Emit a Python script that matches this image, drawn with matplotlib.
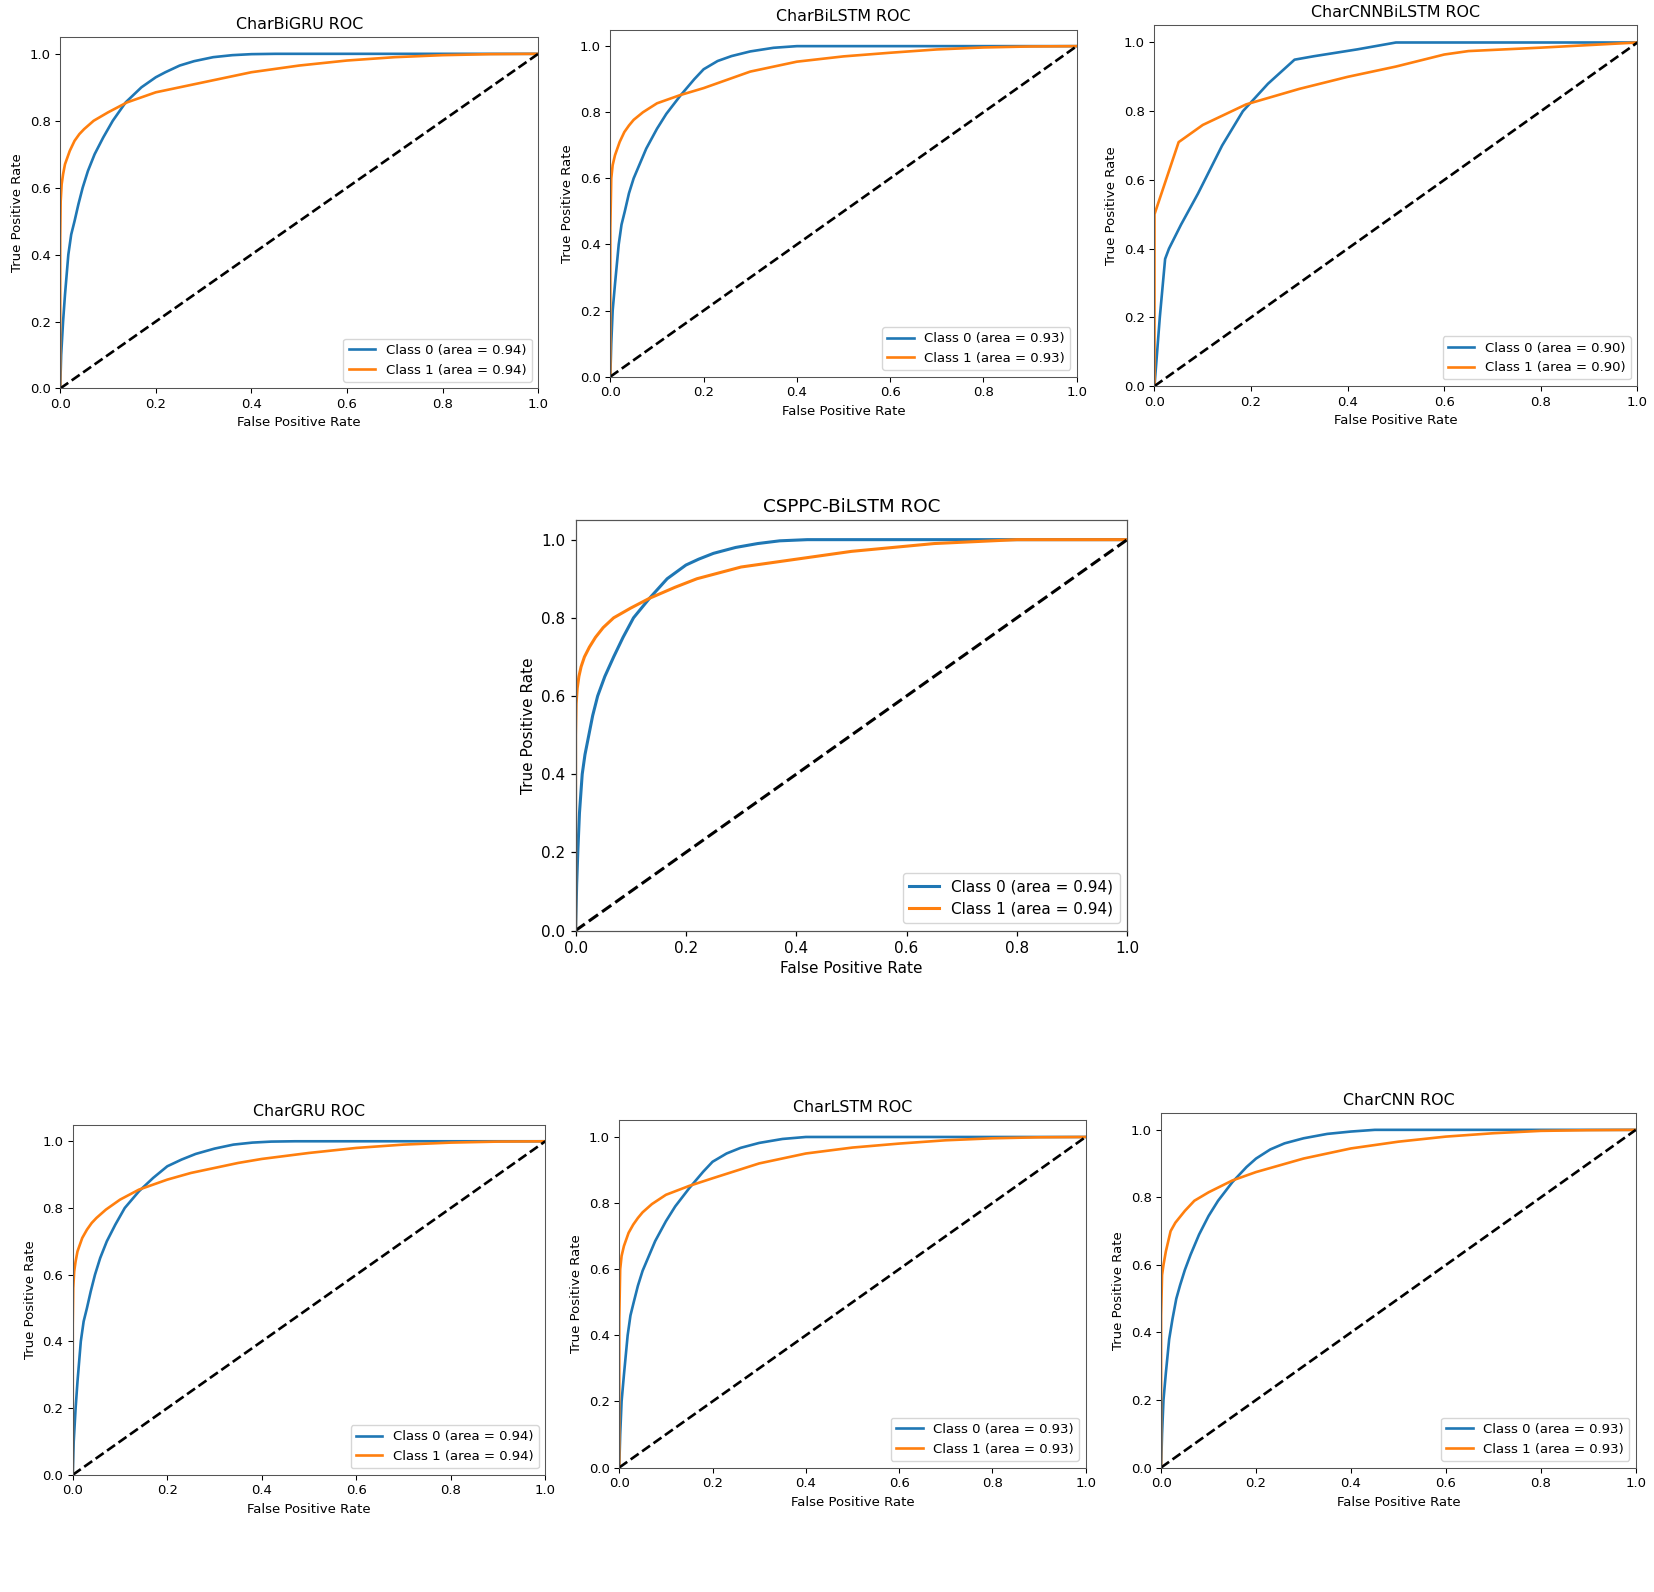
import matplotlib
matplotlib.use("Agg")
import matplotlib.pyplot as plt

# ROC points, per model: (fpr, tpr) for class 0 and class 1
bigru_fpr0 = [0, 0.002, 0.006, 0.01, 0.017, 0.023, 0.03, 0.038, 0.047, 0.058, 0.072, 0.09, 0.11, 0.137, 0.17, 0.2, 0.22, 0.25, 0.28, 0.32, 0.36, 0.4, 0.45, 1.0]
bigru_tpr0 = [0, 0.1, 0.2, 0.28, 0.4, 0.46, 0.5, 0.55, 0.6, 0.65, 0.7, 0.75, 0.8, 0.855, 0.9, 0.93, 0.945, 0.965, 0.978, 0.99, 0.996, 0.999, 1.0, 1.0]
bigru_fpr1 = [0, 0, 0.001, 0.003, 0.006, 0.01, 0.015, 0.02, 0.03, 0.04, 0.05, 0.07, 0.1, 0.14, 0.2, 0.25, 0.3, 0.35, 0.4, 0.5, 0.6, 0.7, 0.8, 0.9, 1.0]
bigru_tpr1 = [0, 0.45, 0.56, 0.61, 0.64, 0.67, 0.69, 0.71, 0.74, 0.76, 0.775, 0.8, 0.825, 0.855, 0.885, 0.9, 0.915, 0.93, 0.945, 0.965, 0.98, 0.99, 0.996, 0.999, 1.0]

bilstm_fpr0 = [0, 0.002, 0.005, 0.01, 0.018, 0.024, 0.031, 0.04, 0.05, 0.062, 0.077, 0.1, 0.12, 0.15, 0.18, 0.2, 0.23, 0.26, 0.3, 0.35, 0.4, 1.0]
bilstm_tpr0 = [0, 0.1, 0.2, 0.28, 0.4, 0.46, 0.5, 0.555, 0.6, 0.64, 0.69, 0.75, 0.795, 0.85, 0.9, 0.93, 0.955, 0.97, 0.984, 0.995, 1.0, 1.0]
bilstm_fpr1 = [0, 0, 0.002, 0.005, 0.01, 0.02, 0.03, 0.04, 0.05, 0.07, 0.1, 0.15, 0.2, 0.3, 0.4, 0.5, 0.6, 0.7, 0.8, 0.9, 1.0]
bilstm_tpr1 = [0, 0.45, 0.6, 0.64, 0.67, 0.71, 0.74, 0.76, 0.777, 0.8, 0.827, 0.852, 0.873, 0.923, 0.953, 0.969, 0.98, 0.99, 0.996, 0.999, 1.0]

cnnbilstm_fpr0 = [0, 0.011, 0.022, 0.03, 0.055, 0.09, 0.14, 0.183, 0.235, 0.29, 0.33, 0.42, 0.5, 1.0]
cnnbilstm_tpr0 = [0, 0.2, 0.37, 0.40, 0.47, 0.56, 0.7, 0.8, 0.88, 0.95, 0.96, 0.98, 1.0, 1.0]
cnnbilstm_fpr1 = [0, 0, 0.05, 0.06, 0.1, 0.19, 0.3, 0.4, 0.5, 0.6, 0.65, 0.8, 1.0]
cnnbilstm_tpr1 = [0, 0.5, 0.71, 0.72, 0.76, 0.82, 0.865, 0.9, 0.93, 0.965, 0.975, 0.985, 1.0]

csppc_fpr0 = [0, 0.002, 0.004, 0.007, 0.012, 0.017, 0.024, 0.031, 0.04, 0.053, 0.069, 0.086, 0.105, 0.134, 0.166, 0.2, 0.223, 0.25, 0.29, 0.33, 0.37, 0.42, 1.0]
csppc_tpr0 = [0, 0.12, 0.2, 0.3, 0.4, 0.45, 0.5, 0.55, 0.6, 0.65, 0.7, 0.75, 0.8, 0.85, 0.9, 0.935, 0.95, 0.965, 0.98, 0.99, 0.997, 1.0, 1.0]
csppc_fpr1 = [0, 0, 0.001, 0.003, 0.006, 0.01, 0.016, 0.025, 0.036, 0.05, 0.069, 0.1, 0.134, 0.18, 0.22, 0.3, 0.4, 0.5, 0.65, 0.8, 1.0]
csppc_tpr1 = [0, 0.5, 0.58, 0.62, 0.65, 0.675, 0.7, 0.725, 0.75, 0.775, 0.8, 0.825, 0.85, 0.878, 0.9, 0.93, 0.95, 0.97, 0.99, 1.0, 1.0]

gru_fpr0 = [0, 0.002, 0.006, 0.01, 0.017, 0.023, 0.03, 0.038, 0.047, 0.058, 0.072, 0.09, 0.11, 0.14, 0.17, 0.2, 0.23, 0.26, 0.3, 0.34, 0.38, 0.42, 0.47, 1.0]
gru_tpr0 = [0, 0.1, 0.2, 0.28, 0.4, 0.46, 0.5, 0.55, 0.6, 0.65, 0.7, 0.75, 0.8, 0.85, 0.89, 0.925, 0.945, 0.962, 0.978, 0.99, 0.996, 0.999, 1.0, 1.0]
gru_fpr1 = [0, 0, 0.001, 0.003, 0.006, 0.01, 0.015, 0.02, 0.03, 0.04, 0.05, 0.07, 0.1, 0.14, 0.2, 0.25, 0.3, 0.35, 0.4, 0.5, 0.6, 0.7, 0.8, 0.9, 1.0]
gru_tpr1 = [0, 0.45, 0.56, 0.61, 0.64, 0.67, 0.69, 0.71, 0.735, 0.755, 0.77, 0.795, 0.825, 0.855, 0.885, 0.905, 0.92, 0.935, 0.947, 0.965, 0.98, 0.99, 0.996, 0.999, 1.0]

lstm_fpr0 = [0, 0.002, 0.005, 0.01, 0.018, 0.024, 0.031, 0.04, 0.05, 0.062, 0.077, 0.1, 0.12, 0.15, 0.18, 0.2, 0.23, 0.26, 0.3, 0.35, 0.4, 1.0]
lstm_tpr0 = [0, 0.1, 0.2, 0.28, 0.4, 0.46, 0.5, 0.55, 0.595, 0.635, 0.685, 0.745, 0.79, 0.845, 0.895, 0.925, 0.95, 0.967, 0.982, 0.994, 1.0, 1.0]
lstm_fpr1 = [0, 0, 0.002, 0.005, 0.01, 0.02, 0.03, 0.04, 0.05, 0.07, 0.1, 0.15, 0.2, 0.3, 0.4, 0.5, 0.6, 0.7, 0.8, 0.9, 1.0]
lstm_tpr1 = [0, 0.45, 0.6, 0.64, 0.67, 0.71, 0.735, 0.755, 0.772, 0.797, 0.825, 0.852, 0.875, 0.92, 0.95, 0.968, 0.98, 0.99, 0.996, 0.999, 1.0]

cnn_fpr0 = [0, 0.002, 0.005, 0.01, 0.017, 0.024, 0.032, 0.04, 0.05, 0.062, 0.08, 0.1, 0.12, 0.15, 0.18, 0.2, 0.23, 0.26, 0.3, 0.35, 0.4, 0.45, 1.0]
cnn_tpr0 = [0, 0.1, 0.2, 0.28, 0.38, 0.44, 0.5, 0.54, 0.585, 0.63, 0.69, 0.745, 0.79, 0.845, 0.89, 0.915, 0.942, 0.96, 0.975, 0.988, 0.995, 1.0, 1.0]
cnn_fpr1 = [0, 0, 0.002, 0.005, 0.01, 0.02, 0.03, 0.05, 0.07, 0.1, 0.15, 0.2, 0.3, 0.4, 0.5, 0.6, 0.7, 0.8, 0.9, 1.0]
cnn_tpr1 = [0, 0.45, 0.57, 0.6, 0.64, 0.7, 0.725, 0.76, 0.79, 0.815, 0.85, 0.875, 0.915, 0.945, 0.965, 0.98, 0.99, 0.997, 0.999, 1.0]

models = ["CharBiGRU", "CharBiLSTM", "CharCNNBiLSTM", "CSPPC-BiLSTM", "CharGRU", "CharLSTM", "CharCNN"]
aucs = [0.94, 0.93, 0.90, 0.94, 0.94, 0.93, 0.93]
curves = [
    (bigru_fpr0, bigru_tpr0, bigru_fpr1, bigru_tpr1),
    (bilstm_fpr0, bilstm_tpr0, bilstm_fpr1, bilstm_tpr1),
    (cnnbilstm_fpr0, cnnbilstm_tpr0, cnnbilstm_fpr1, cnnbilstm_tpr1),
    (csppc_fpr0, csppc_tpr0, csppc_fpr1, csppc_tpr1),
    (gru_fpr0, gru_tpr0, gru_fpr1, gru_tpr1),
    (lstm_fpr0, lstm_tpr0, lstm_fpr1, lstm_tpr1),
    (cnn_fpr0, cnn_tpr0, cnn_fpr1, cnn_tpr1),
]

# axes boxes [left, bottom, width, height] in figure fractions, plus a text scale
boxes = [
    ([0.0364, 0.756, 0.289, 0.2207], 0.95),
    ([0.369, 0.7634, 0.282, 0.218], 0.95),
    ([0.698, 0.7575, 0.292, 0.2266], 0.95),
    ([0.348, 0.4155, 0.3335, 0.2578], 1.1),
    ([0.044, 0.0736, 0.2857, 0.22], 0.95),
    ([0.3744, 0.0782, 0.282, 0.218], 0.95),
    ([0.702, 0.0782, 0.287, 0.2227], 0.95),
]

fig = plt.figure(figsize=(16.54, 15.92), dpi=100)

for name, auc, (f0, t0, f1, t1), (box, s) in zip(models, aucs, curves, boxes):
    ax = fig.add_axes(box)
    lw = 2 * s
    ax.plot(f0, t0, color="tab:blue", lw=lw, label=f"Class 0 (area = {auc:.2f})")
    ax.plot(f1, t1, color="tab:orange", lw=lw, label=f"Class 1 (area = {auc:.2f})")
    ax.plot([0, 1], [0, 1], "k--", lw=lw)
    ax.set_xlim(0.0, 1.0)
    ax.set_ylim(0.0, 1.05)
    ax.set_xlabel("False Positive Rate", fontsize=10 * s)
    ax.set_ylabel("True Positive Rate", fontsize=10 * s)
    ax.set_title(f"{name} ROC", fontsize=12 * s)
    ax.tick_params(labelsize=10 * s, width=0.8 * s, length=3.5 * s)
    for sp in ax.spines.values():
        sp.set_linewidth(0.8 * s)
        sp.set_edgecolor("#555555")
    ax.legend(loc="lower right", fontsize=10 * s)

fig.savefig("out.png", dpi=100)
